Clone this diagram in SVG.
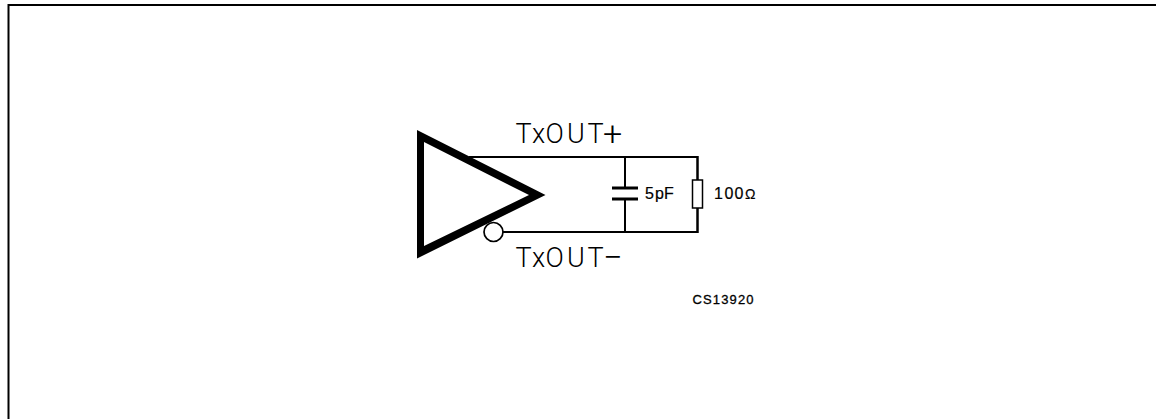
<svg xmlns="http://www.w3.org/2000/svg" width="1156" height="419" viewBox="0 0 1156 419">
<style>
.w{fill:none;stroke:#000;stroke-width:2;stroke-linecap:square}
.p{fill:none;stroke:#000;stroke-width:3}
text{font-family:"Liberation Sans",Arial,sans-serif;fill:#000}
.l{font-family:Roboto,"Liberation Sans",sans-serif;font-weight:300;font-size:27px}
.m{font-size:16px;stroke:#000;stroke-width:.2px}.s{font-size:13px;stroke:#000;stroke-width:.3px}
</style>
<rect width="1156" height="419" fill="#fff"/>
<g id="frame"><path d="M1156 5H8.500V419" fill="none" stroke="#000" stroke-width="2"/></g>
<g id="connectors">
<path class="w" d="M470 157H697.500V232H504"/>
<path class="w" d="M625 157V187M625 199V232"/>
<path class="w" d="M697.500 157V180M697.500 208V232"/>
</g>
<g id="driver">
<path d="M417 130L545.500 195L417 258.500Z M424 142V246L529 195Z" fill-rule="evenodd" fill="#000"/>
<circle cx="493.500" cy="232" r="9.500" fill="#fff" stroke="#000" stroke-width="1.700"/>
</g>
<g id="capacitor"><path class="p" d="M612 188H638M612 199H638"/></g>
<g id="resistor"><rect x="692.500" y="180" width="10" height="28" fill="#fff" stroke="#000" stroke-width="1.500"/></g>
<g id="labels">
<text class="l" x="515.500 532 545.500 567 587.500 603" y="143">TxOUT<tspan font-size="34" dy="2">+</tspan></text>
<text class="l" x="515.500 532 545.500 567 587.500 603" y="267">TxOUT<tspan font-size="34" dy="2">−</tspan></text>
<text class="m" x="645 655 664" y="199">5pF</text>
<text class="m" x="714 724.500 734.500 745" y="199">100<tspan font-size="14">Ω</tspan></text>
<text class="s" x="692.500" y="304" textLength="61">CS13920</text>
</g>
</svg>
